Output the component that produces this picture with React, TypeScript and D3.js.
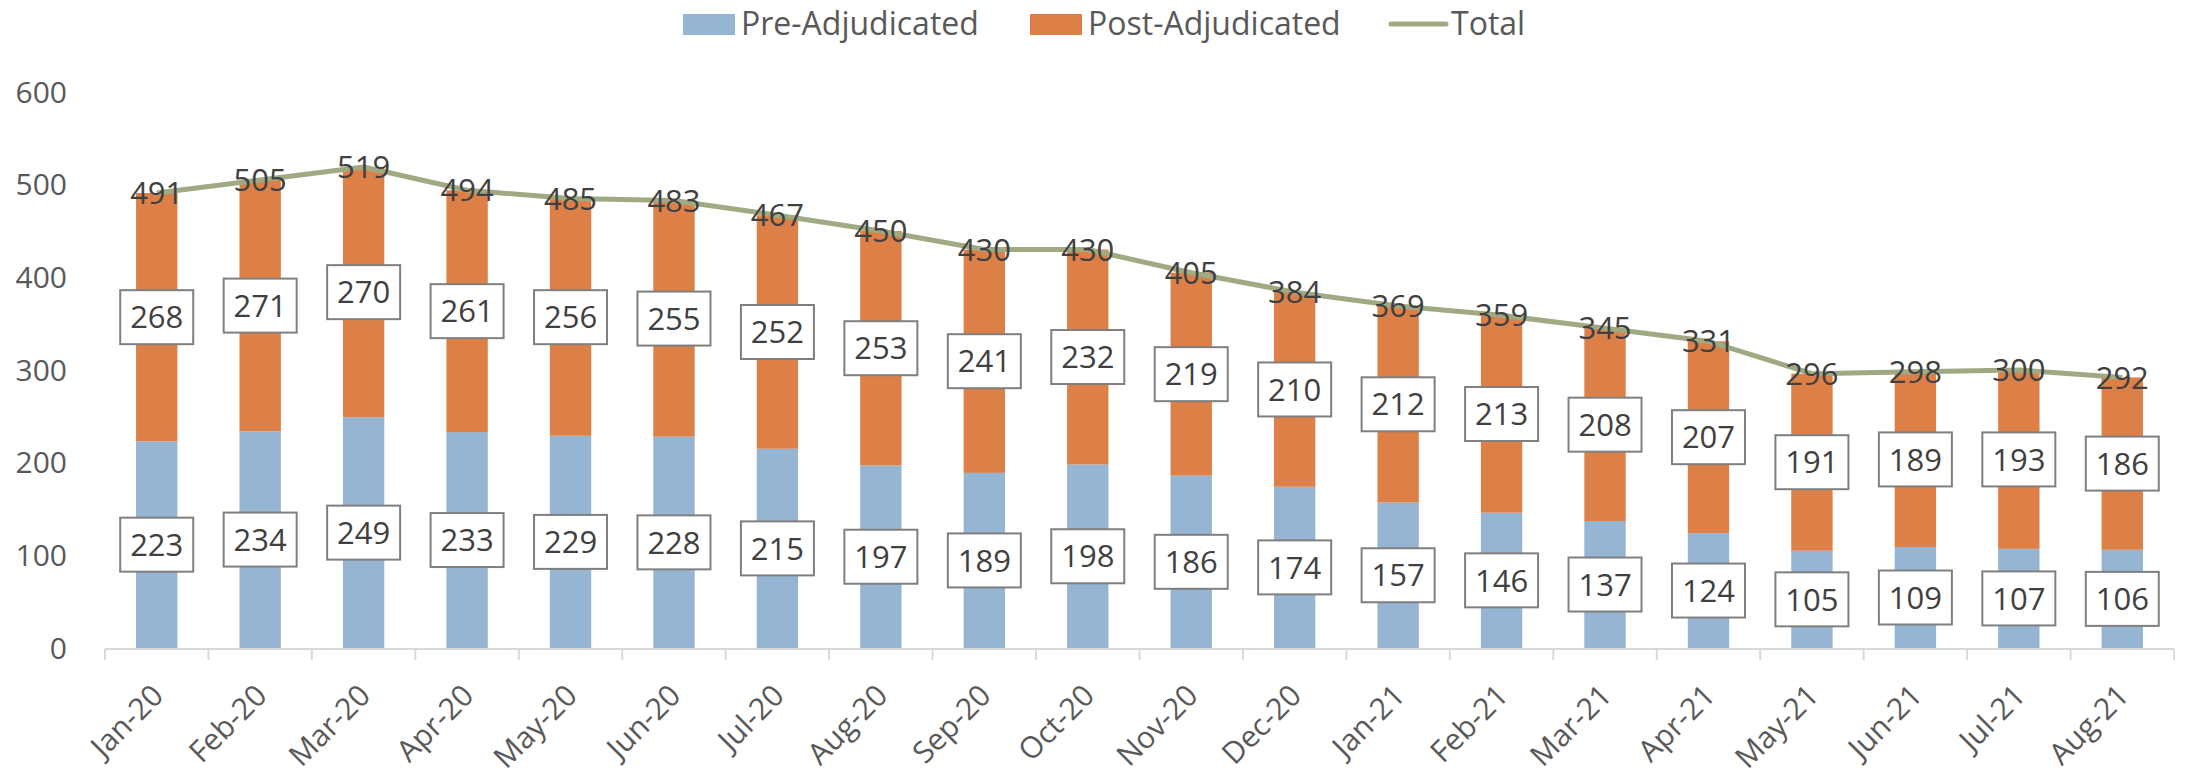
import React, { useEffect, useRef } from "react";
import * as d3 from "d3";

const months = ["Jan-20", "Feb-20", "Mar-20", "Apr-20", "May-20", "Jun-20", "Jul-20", "Aug-20", "Sep-20", "Oct-20",
  "Nov-20", "Dec-20", "Jan-21", "Feb-21", "Mar-21", "Apr-21", "May-21", "Jun-21", "Jul-21", "Aug-21"];
const preAdjudicated = [223, 234, 249, 233, 229, 228, 215, 197, 189, 198, 186, 174, 157, 146, 137, 124, 105, 109, 107, 106];
const postAdjudicated = [268, 271, 270, 261, 256, 255, 252, 253, 241, 232, 219, 210, 212, 213, 208, 207, 191, 189, 193, 186];
const total = [491, 505, 519, 494, 485, 483, 467, 450, 430, 430, 405, 384, 369, 359, 345, 331, 296, 298, 300, 292];
const yTicks = [0, 100, 200, 300, 400, 500, 600];

const WIDTH = 2186;
const HEIGHT = 777;
const FONT = "'Open Sans', sans-serif";
const BLUE = "#95b5d3";
const ORANGE = "#dd8047";
const GREEN = "#a0aa82";

function drawChart(node: SVGSVGElement) {
  const margin = { left: 105, right: 12, top: 92, bottom: 129 };
  const x = d3.scaleBand<string>()
    .domain(months)
    .range([margin.left, WIDTH - margin.right])
    .padding(0);
  const y = d3.scaleLinear()
    .domain([0, 600])
    .range([HEIGHT - margin.bottom, margin.top]);
  const barW = x.bandwidth() * 0.4;
  const cx = (m: string) => (x(m) as number) + x.bandwidth() / 2;

  const svg = d3.select(node);
  svg.selectAll("*").remove();

  // y labels (no axis line, no grid)
  svg.append("g").selectAll("text")
    .data(yTicks)
    .enter().append("text")
    .attr("x", 67)
    .attr("y", d => y(d))
    .attr("dy", "0.36em")
    .attr("text-anchor", "end")
    .style("font-family", FONT)
    .style("font-size", "30px")
    .style("fill", "#595959")
    .text(d => d);

  const rows = months.map((m, i) => ({ m, pre: preAdjudicated[i], post: postAdjudicated[i], total: total[i] }));

  // stacked bars
  svg.append("g").selectAll("rect")
    .data(rows)
    .enter().append("rect")
    .attr("x", d => cx(d.m) - barW / 2)
    .attr("y", d => y(d.pre))
    .attr("width", barW)
    .attr("height", d => y(0) - y(d.pre))
    .style("fill", BLUE);
  svg.append("g").selectAll("rect")
    .data(rows)
    .enter().append("rect")
    .attr("x", d => cx(d.m) - barW / 2)
    .attr("y", d => y(d.pre + d.post))
    .attr("width", barW)
    .attr("height", d => y(d.pre) - y(d.pre + d.post))
    .style("fill", ORANGE);

  // x axis line + ticks
  const axis = svg.append("g").style("stroke", "#d9d9d9").style("stroke-width", 2);
  axis.append("line")
    .attr("x1", margin.left).attr("x2", WIDTH - margin.right)
    .attr("y1", y(0) + 1).attr("y2", y(0) + 1);
  axis.selectAll(".tick")
    .data([...months.map(m => x(m) as number), WIDTH - margin.right])
    .enter().append("line")
    .attr("x1", d => d).attr("x2", d => d)
    .attr("y1", y(0) + 1).attr("y2", y(0) + 12);

  svg.append("g").selectAll("text")
    .data(months)
    .enter().append("text")
    .attr("transform", d => `translate(${cx(d) + 1},${y(0) + 42}) rotate(-45)`)
    .attr("dy", "0.35em")
    .attr("text-anchor", "end")
    .style("font-family", FONT)
    .style("font-size", "30px")
    .style("fill", "#595959")
    .text(d => d);

  // total line
  const line = d3.line<typeof rows[0]>()
    .x(d => cx(d.m))
    .y(d => y(d.total));
  svg.append("path")
    .datum(rows)
    .attr("d", line)
    .style("fill", "none")
    .style("stroke", GREEN)
    .style("stroke-width", 5)
    .style("stroke-linejoin", "round");

  // boxed labels for each segment
  const boxW = 73, boxH = 54;
  const boxes = rows.flatMap(d => [
    { m: d.m, v: d.pre, mid: d.pre / 2 },
    { m: d.m, v: d.post, mid: d.pre + d.post / 2 }
  ]);
  const bg = svg.append("g").selectAll("g")
    .data(boxes)
    .enter().append("g")
    .attr("transform", d => `translate(${cx(d.m)},${y(d.mid)})`);
  bg.append("rect")
    .attr("x", -boxW / 2).attr("y", -boxH / 2)
    .attr("width", boxW).attr("height", boxH)
    .style("fill", "#fff")
    .style("stroke", "#7f7f7f")
    .style("stroke-width", 2);
  bg.append("text")
    .attr("text-anchor", "middle")
    .attr("dy", "0.36em")
    .style("font-family", FONT)
    .style("font-size", "31px")
    .style("fill", "#404040")
    .text(d => d.v);

  // total labels centered on the points
  svg.append("g").selectAll("text")
    .data(rows)
    .enter().append("text")
    .attr("x", d => cx(d.m))
    .attr("y", d => y(d.total))
    .attr("dy", "0.36em")
    .attr("text-anchor", "middle")
    .style("font-family", FONT)
    .style("font-size", "31px")
    .style("fill", "#404040")
    .text(d => d.total);

  // legend
  const lg = svg.append("g").style("font-family", FONT).style("font-size", "32px").style("fill", "#595959");
  lg.append("rect").attr("x", 683).attr("y", 14).attr("width", 52).attr("height", 21).style("fill", BLUE);
  lg.append("text").attr("x", 741).attr("y", 35).text("Pre-Adjudicated");
  lg.append("rect").attr("x", 1030).attr("y", 14).attr("width", 52).attr("height", 21).style("fill", ORANGE);
  lg.append("text").attr("x", 1088).attr("y", 35).text("Post-Adjudicated");
  lg.append("line").attr("x1", 1391).attr("x2", 1446).attr("y1", 24).attr("y2", 24)
    .style("stroke", GREEN).style("stroke-width", 5).style("stroke-linecap", "round");
  lg.append("text").attr("x", 1451).attr("y", 35).text("Total");
}

export default function App() {
  const ref = useRef<SVGSVGElement>(null);
  useEffect(() => {
    if (ref.current) drawChart(ref.current);
  });
  return (
    <svg ref={ref} width={WIDTH} height={HEIGHT}
      style={{ position: "absolute", left: 0, top: 0, background: "#fff" }} />
  );
}
